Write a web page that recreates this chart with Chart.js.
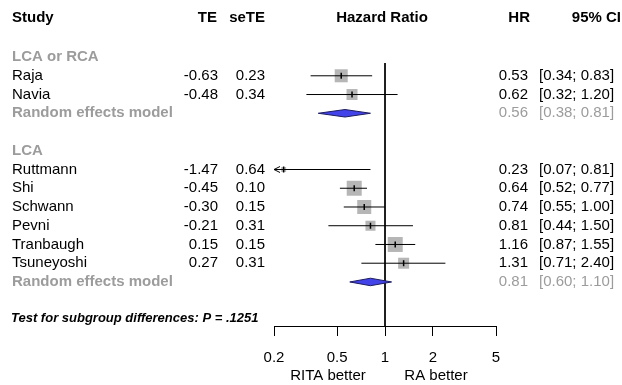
<!DOCTYPE html>
<html lang="en">
<head>
<meta charset="UTF-8">
<title>Forest plot</title>
<script src="https://cdn.jsdelivr.net/npm/chart.js@4"></script>
<style>
  body { margin: 0; padding: 0; background: #fff; }
</style>
</head>
<body>
<canvas id="forest" width="622" height="385"></canvas>
<script>
// study rows, row index on the y scale (0 = first subgroup header)
const studies = ["Raja", "Navia", "Ruttmann", "Shi", "Schwann", "Pevni", "Tranbaugh", "Tsuneyoshi"];
const studyRows = [1, 2, 6, 7, 8, 9, 10, 11];
const te = ["-0.63", "-0.48", "-1.47", "-0.45", "-0.30", "-0.21", "0.15", "0.27"];
const seTE = ["0.23", "0.34", "0.64", "0.10", "0.15", "0.31", "0.15", "0.31"];
const hr = [0.53, 0.62, 0.23, 0.64, 0.74, 0.81, 1.16, 1.31];
const ciLow = [0.34, 0.32, 0.07, 0.52, 0.55, 0.44, 0.87, 0.71];
const ciHigh = [0.83, 1.20, 0.81, 0.77, 1.00, 1.50, 1.55, 2.40];
// relative weights (%), estimated from the square sizes
const weights = [14.3, 10.2, 2.1, 19.0, 16.6, 8.5, 19.0, 10.2];

// subgroups
const groups = ["LCA or RCA", "LCA"];
const groupRows = [0, 5];
const pooledRows = [3, 12];
const pooledHr = [0.56, 0.81];
const pooledLow = [0.38, 0.60];
const pooledHigh = [0.81, 1.10];

const xTicks = [0.2, 0.5, 1, 2, 5];
const pText = "Test for subgroup differences: P = .1251";

const GREY = "#9c9c9c";
const FONT = "'Liberation Sans', Arial, sans-serif";
const HEADER_ROW = -2.08;
const Y_MIN = -2.19, Y_MAX = 14.35;

const datasets = [];

// vertical line at HR = 1
datasets.push({
    data: [{ x: 1, y: 0.32 }, { x: 1, y: Y_MAX }],
    showLine: true, borderColor: "#000", borderWidth: 1, pointRadius: 0, order: 2
});

// weight squares (drawn first, the lines run over them)
const maxW = Math.max(...weights);
datasets.push({
    data: studies.map((s, i) => ({ x: hr[i], y: studyRows[i] })),
    pointStyle: "rect",
    pointRadius: weights.map(w => 15 * Math.sqrt(w / maxW) / (2 * Math.SQRT1_2)),
    backgroundColor: "#b6b6b6", borderWidth: 0, order: 3
});

// confidence intervals
studies.forEach((s, i) => {
    datasets.push({
        data: [{ x: ciLow[i], y: studyRows[i] }, { x: ciHigh[i], y: studyRows[i] }],
        showLine: true, borderColor: "#000", borderWidth: 1, pointRadius: 0, order: 1
    });
});

// point estimate marks
datasets.push({
    data: studies.map((s, i) => ({ x: hr[i], y: studyRows[i] })),
    pointStyle: "line", rotation: 90, pointRadius: 3,
    borderColor: "#000", borderWidth: 1.5, order: 0
});

// pooled diamonds
pooledRows.forEach((r, i) => {
    const h = 0.2;
    datasets.push({
        data: [
            { x: pooledLow[i], y: r },
            { x: pooledHr[i], y: r - h },
            { x: pooledHigh[i], y: r },
            { x: pooledHr[i], y: r + h },
            { x: pooledLow[i], y: r }
        ],
        showLine: true, fill: "shape", pointRadius: 0, order: 1,
        borderColor: "#1c1c60", borderWidth: 1, backgroundColor: "#4343ea"
    });
});

const textPlugin = {
    id: "forestText",
    afterDraw(chart) {
        const ctx = chart.ctx;
        const y = chart.scales.y;
        const x = chart.scales.x;
        ctx.save();
        ctx.textBaseline = "middle";

        function txt(s, px, row, align, color, weight) {
            ctx.font = (weight || "") + " 15px " + FONT;
            ctx.fillStyle = color || "#000";
            ctx.textAlign = align || "left";
            ctx.fillText(s, px, y.getPixelForValue(row));
        }

        // column headers
        txt("Study", 12, HEADER_ROW, "left", "#000", "bold");
        txt("TE", 217, HEADER_ROW, "right", "#000", "bold");
        txt("seTE", 265, HEADER_ROW, "right", "#000", "bold");
        txt("Hazard Ratio", 382, HEADER_ROW, "center", "#000", "bold");
        txt("HR", 530, HEADER_ROW, "right", "#000", "bold");
        txt("95% CI", 621, HEADER_ROW, "right", "#000", "bold");

        groups.forEach((g, i) => txt(g, 12, groupRows[i], "left", GREY, "bold"));

        studies.forEach((s, i) => {
            const r = studyRows[i];
            txt(s, 12, r);
            txt(te[i], 218, r, "right");
            txt(seTE[i], 265, r, "right");
            txt(hr[i].toFixed(2), 528, r, "right");
            txt("[" + ciLow[i].toFixed(2) + "; " + ciHigh[i].toFixed(2) + "]", 539, r);

            // arrow where the interval runs off the axis
            if (ciLow[i] < x.min) {
                const ax = x.getPixelForValue(x.min);
                const ay = y.getPixelForValue(r);
                ctx.strokeStyle = "#000";
                ctx.lineWidth = 1;
                ctx.beginPath();
                ctx.moveTo(ax + 6, ay - 3);
                ctx.lineTo(ax, ay);
                ctx.lineTo(ax + 6, ay + 3);
                ctx.stroke();
            }
        });

        pooledRows.forEach((r, i) => {
            txt("Random effects model", 12, r, "left", GREY, "bold");
            txt(pooledHr[i].toFixed(2), 528, r, "right", GREY);
            txt("[" + pooledLow[i].toFixed(2) + "; " + pooledHigh[i].toFixed(2) + "]", 539, r, "left", GREY);
        });

        // subgroup test
        ctx.font = "italic bold 13px " + FONT;
        ctx.fillStyle = "#000";
        ctx.textAlign = "left";
        ctx.fillText(pText, 11, 318);

        // direction labels under the axis
        ctx.font = "15px " + FONT;
        ctx.textAlign = "center";
        ctx.fillText("RITA better", 328, 376);
        ctx.fillText("RA better", 436, 376);
        ctx.restore();
    }
};

new Chart(document.getElementById("forest"), {
    type: "scatter",
    data: { datasets: datasets },
    options: {
        responsive: false,
        animation: false,
        layout: { padding: { left: 274, right: 126, top: 16, bottom: 0 } },
        plugins: { legend: { display: false }, tooltip: { enabled: false } },
        scales: {
            x: {
                type: "logarithmic",
                min: 0.2,
                max: 5,
                afterBuildTicks: s => { s.ticks = xTicks.map(v => ({ value: v })); },
                afterFit: s => { s.height = 59; },
                grid: { drawOnChartArea: false, tickLength: 10, color: "#000" },
                border: { color: "#000", width: 1 },
                ticks: {
                    color: "#000", padding: 13, autoSkip: false, maxRotation: 0,
                    font: { family: FONT, size: 15 },
                    callback: v => String(v)
                }
            },
            y: { type: "linear", reverse: true, min: Y_MIN, max: Y_MAX, display: false }
        }
    },
    plugins: [textPlugin]
});
</script>
</body>
</html>
